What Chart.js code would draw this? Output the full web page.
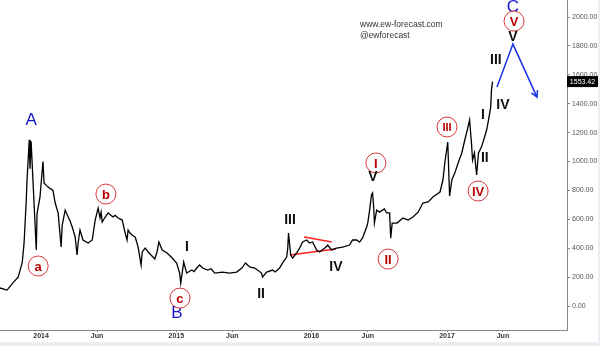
<!DOCTYPE html>
<html><head><meta charset="utf-8">
<script src="https://cdn.jsdelivr.net/npm/chart.js@4/dist/chart.umd.min.js"></script>
<style>
html,body{margin:0;padding:0;background:#eceef3;width:600px;height:346px;overflow:hidden;}
#wrap{position:absolute;left:0;top:0;width:598px;height:342px;background:#fff;}
</style></head><body>
<div id="wrap"><canvas id="c" width="598" height="342"></canvas></div>
<script>
// ---------- data ----------
const DATES = [
'2013-09-12','2013-10-01','2013-10-17','2013-10-31','2013-11-11','2013-11-16','2013-11-22','2013-11-24','2013-11-30','2013-12-02','2013-12-05','2013-12-10','2013-12-16','2013-12-19','2013-12-21','2013-12-29',
'2014-01-06','2014-01-09','2014-01-20','2014-02-02','2014-02-08','2014-02-16','2014-02-24','2014-02-27','2014-03-07','2014-03-15','2014-03-20','2014-03-26','2014-04-03','2014-04-08','2014-04-11','2014-04-16','2014-04-24','2014-05-08','2014-05-19','2014-05-27','2014-06-04','2014-06-09','2014-06-12','2014-06-15','2014-06-23','2014-07-01','2014-07-14','2014-07-20','2014-07-28','2014-08-08','2014-08-16','2014-08-21','2014-08-24','2014-08-29','2014-09-05','2014-09-12','2014-09-20','2014-09-28','2014-10-01','2014-10-09','2014-10-17','2014-10-30','2014-11-04','2014-11-10','2014-11-15','2014-11-24','2014-12-07','2014-12-21',
'2015-01-02','2015-01-10','2015-01-13','2015-01-18','2015-01-21','2015-01-29','2015-02-12','2015-02-18','2015-02-25','2015-03-05','2015-03-13','2015-03-27','2015-04-05','2015-04-15','2015-05-06','2015-05-25','2015-06-13','2015-06-27','2015-07-07','2015-07-18','2015-08-01','2015-08-19','2015-08-22','2015-09-02','2015-09-18','2015-09-25','2015-10-07','2015-10-15','2015-10-26','2015-10-29','2015-10-31','2015-11-06','2015-11-11','2015-11-22','2015-11-30','2015-12-08','2015-12-19','2015-12-27',
'2016-01-04','2016-01-15','2016-01-23','2016-02-06','2016-02-14','2016-02-24','2016-03-09','2016-03-25','2016-04-13','2016-04-21','2016-05-02','2016-05-10','2016-05-18','2016-05-29','2016-06-01','2016-06-06','2016-06-11','2016-06-14','2016-06-17','2016-06-19','2016-06-25','2016-07-03','2016-07-11','2016-07-16','2016-07-22','2016-07-30','2016-08-02','2016-08-06','2016-08-19','2016-09-04','2016-09-18','2016-10-01','2016-10-15','2016-10-28','2016-11-11','2016-11-24','2016-12-13','2016-12-21','2016-12-26',
'2017-01-03','2017-01-08','2017-01-14','2017-01-22','2017-01-31','2017-02-10','2017-02-18','2017-02-26','2017-03-03','2017-03-08','2017-03-11','2017-03-16','2017-03-22','2017-03-27','2017-04-04','2017-04-10','2017-04-18','2017-04-23','2017-04-29','2017-05-01','2017-05-04'
];
const PRICES = [
125,110,160,200,300,435,735,870,1150,950,1140,870,547,388,640,755,
1000,850,823,800,713,644,408,560,664,616,590,547,478,353,436,526,457,436,457,595,678,610,650,581,616,644,616,628,609,595,505,457,526,505,488,478,408,284,374,401,374,339,325,374,443,388,367,332,
298,228,159,249,304,228,249,238,263,284,263,249,258,228,235,228,235,263,298,270,263,228,200,235,249,236,263,298,339,401,505,353,332,367,401,443,457,436,
443,388,374,401,422,388,401,408,422,457,457,443,471,547,574,664,768,782,685,574,664,650,664,672,644,644,470,574,574,609,595,616,650,713,720,755,789,872,990,
1135,760,872,920,990,1059,1149,1232,1287,1128,1010,1059,907,1059,1100,1149,1218,1287,1377,1495,1553.42
];
const LAST_PRICE = '1553.42';

const X_TICK_DATES  = ['2014-01-01','2014-06-01','2015-01-01','2015-06-01','2016-01-01','2016-06-01','2017-01-01','2017-06-01'];
const X_TICK_LABELS = ['2014','Jun','2015','Jun','2016','Jun','2017','Jun'];
const Y_TICKS = [0,200,400,600,800,1000,1200,1400,1600,1800,2000];
const X_RANGE = ['2013-09-12','2017-11-21'];
const Y_RANGE = [-166, 2118];

// wave labels (date, value)
const BLUE_LABELS   = [['A','2013-12-05',1287],['B','2015-01-03',-50],['C','2017-06-28',2069]];
const CIRCLE_LABELS = [['a','2013-12-24',277],['b','2014-06-25',775],['c','2015-01-11',55],
  ['I','2016-06-23',990],['II','2016-07-26',325],['III','2017-01-01',1239],['IV','2017-03-26',796],['V','2017-07-01',1972]];
const BLACK_LABELS  = [['I','2015-01-30',408],['II','2015-08-18',83],['III','2015-11-04',595],['IV','2016-03-07',270],
  ['V','2016-06-15',893],['I','2017-04-08',1322],['II','2017-04-13',1024],['III','2017-05-13',1702],['IV','2017-06-01',1391],['V','2017-06-28',1862]];
const ARROW_DATES  = ['2017-05-16','2017-06-28','2017-09-01'];
const ARROW_VALUES = [1516,1813,1446];
const TRI_UP_DATES = ['2015-12-12','2016-02-25'];
const TRI_UP_VALUES = [478,443];
const TRI_LO_DATES = ['2015-11-04','2016-03-07'];
const TRI_LO_VALUES = [353,394];

// ---------- helpers ----------
const BASE = Date.UTC(2014,0,1);
function day(s){const p=s.split('-').map(Number);return (Date.UTC(p[0],p[1]-1,p[2])-BASE)/86400000;}
const pts = (ds,vs)=>ds.map((d,i)=>({x:day(d),y:vs[i]}));
const FONT = '"Liberation Sans", Arial, sans-serif';

const annot = {
  id:'annot',
  afterDatasetsDraw(chart){
    const {ctx, scales:{x,y}} = chart;
    ctx.save();
    ctx.textAlign='center'; ctx.textBaseline='middle';
    const a1 = {x:x.getPixelForValue(day(ARROW_DATES[1])), y:y.getPixelForValue(ARROW_VALUES[1])};
    const a2 = {x:x.getPixelForValue(day(ARROW_DATES[2])), y:y.getPixelForValue(ARROW_VALUES[2])};
    const ang = Math.atan2(a2.y-a1.y, a2.x-a1.x);
    ctx.strokeStyle='#1a33e6'; ctx.lineWidth=1.5;
    ctx.beginPath();
    ctx.moveTo(a2.x-7*Math.cos(ang-0.5), a2.y-7*Math.sin(ang-0.5));
    ctx.lineTo(a2.x,a2.y);
    ctx.lineTo(a2.x-7*Math.cos(ang+0.5), a2.y-7*Math.sin(ang+0.5));
    ctx.stroke();
    ctx.fillStyle='#1515d0'; ctx.font='17px '+FONT;
    BLUE_LABELS.forEach(([t,d,v])=>ctx.fillText(t, x.getPixelForValue(day(d)), y.getPixelForValue(v)));
    CIRCLE_LABELS.forEach(([t,d,v])=>{
      const px=x.getPixelForValue(day(d)), py=y.getPixelForValue(v);
      ctx.beginPath(); ctx.arc(px,py,10,0,Math.PI*2);
      ctx.fillStyle='#fff'; ctx.fill();
      ctx.strokeStyle='#d83a3a'; ctx.lineWidth=1; ctx.stroke();
      ctx.fillStyle='#b80000';
      ctx.font='bold '+(t.length>2?'11px ':'13px ')+FONT;
      ctx.fillText(t,px,py+1);
    });
    ctx.fillStyle='#111'; ctx.font='bold 14px '+FONT;
    BLACK_LABELS.forEach(([t,d,v])=>ctx.fillText(t, x.getPixelForValue(day(d)), y.getPixelForValue(v)));
    ctx.textAlign='left'; ctx.fillStyle='#333'; ctx.font='8.5px '+FONT;
    ctx.fillText('www.ew-forecast.com', 360, 25);
    ctx.fillText('@ewforecast', 360, 36);
    ctx.restore();
  },
  afterDraw(chart){
    const {ctx, scales:{y}, chartArea} = chart;
    const py = y.getPixelForValue(parseFloat(LAST_PRICE));
    ctx.save();
    ctx.fillStyle='#000';
    ctx.fillRect(chartArea.right, py-5.5, 31, 11);
    ctx.fillStyle='#fff'; ctx.font='7px '+FONT; ctx.textAlign='center'; ctx.textBaseline='middle';
    ctx.fillText(LAST_PRICE, chartArea.right+15.5, py+0.5);
    ctx.restore();
  }
};

new Chart(document.getElementById('c'), {
  type:'line',
  data:{datasets:[
    {data:pts(DATES,PRICES), borderColor:'#000', borderWidth:1.3, pointRadius:0, tension:0},
    {data:pts(ARROW_DATES,ARROW_VALUES), borderColor:'#1a33e6', borderWidth:1.5, pointRadius:0},
    {data:pts(TRI_UP_DATES,TRI_UP_VALUES), borderColor:'#ff2020', borderWidth:1.5, pointRadius:0},
    {data:pts(TRI_LO_DATES,TRI_LO_VALUES), borderColor:'#ff2020', borderWidth:1.5, pointRadius:0}
  ]},
  options:{
    responsive:false, animation:false, devicePixelRatio:1,
    layout:{padding:0},
    plugins:{legend:{display:false}, tooltip:{enabled:false}},
    scales:{
      x:{type:'linear', min:day(X_RANGE[0]), max:day(X_RANGE[1]),
        afterBuildTicks:s=>{s.ticks=X_TICK_DATES.map(d=>({value:day(d)}));},
        afterFit:s=>{s.height=12; s.paddingLeft=0; s.paddingRight=0;},
        ticks:{autoSkip:false, maxRotation:0, padding:0, color:'#333', font:{size:7, weight:'bold', family:FONT},
          callback:(v)=>{const i=X_TICK_DATES.findIndex(d=>day(d)===v);return i>=0?X_TICK_LABELS[i]:'';}},
        grid:{drawOnChartArea:false, drawTicks:true, tickLength:2, color:'#888'},
        border:{display:true, color:'#888', width:1}
      },
      y:{position:'right', min:Y_RANGE[0], max:Y_RANGE[1],
        afterBuildTicks:s=>{s.ticks=Y_TICKS.map(v=>({value:v}));},
        afterFit:s=>{s.width=31; s.paddingTop=0; s.paddingBottom=0;},
        ticks:{padding:2, color:'#555', font:{size:7, family:FONT}, callback:v=>v.toFixed(2)},
        grid:{drawOnChartArea:false, drawTicks:true, tickLength:3, color:'#888'},
        border:{display:true, color:'#888', width:1}
      }
    }
  },
  plugins:[annot]
});
</script></body></html>
